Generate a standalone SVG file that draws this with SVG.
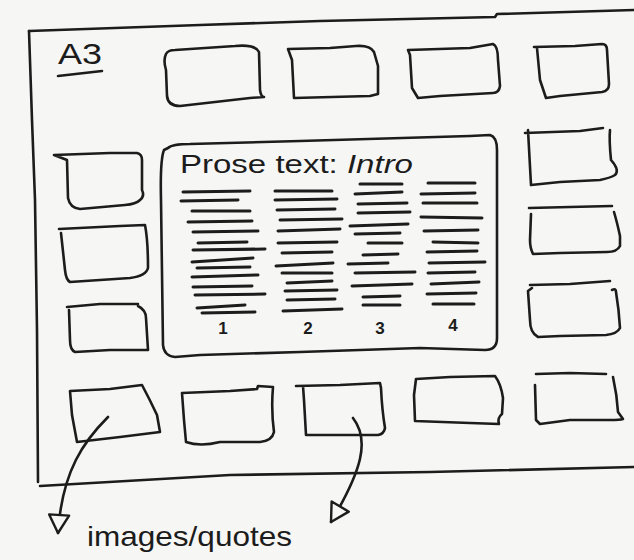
<svg xmlns="http://www.w3.org/2000/svg" width="634" height="560" viewBox="0 0 634 560">
  <style>
    .ink { fill: none; stroke: #1c1c1c; stroke-width: 2.6; stroke-linecap: round; stroke-linejoin: round; }
    .line { fill: none; stroke: #1c1c1c; stroke-width: 3; stroke-linecap: round; }
    .hand { font-family: "Liberation Sans", "DejaVu Sans", sans-serif; fill: #1c1c1c; }
    .num { font-family: "Liberation Sans", "DejaVu Sans", sans-serif; fill: #1c1c1c; font-size: 17px; font-weight: bold; text-anchor: middle; }
  </style>
  <defs>
    <marker id="openTri" viewBox="0 0 22 24" refX="20" refY="12" markerWidth="22" markerHeight="24" markerUnits="userSpaceOnUse" orient="auto">
      <path d="M2,2 L20,12 L2,22 Z" fill="#f6f6f4" stroke="#1c1c1c" stroke-width="2.4" stroke-linejoin="round"/>
    </marker>
  </defs>
  <rect width="634" height="560" fill="#f6f6f4"/>

  <g id="sheet">
    <path class="ink" d="M29,31 L200,25 L320,21 L495,17 L497,14 L634,10"/>
    <path class="ink" d="M29,31 L32,120 L35,200 L37,330 L38,482"/>
    <path class="ink" d="M40,486 L230,475 L430,472 L634,467"/>
    <text class="hand" x="58" y="64" font-size="30" textLength="44" lengthAdjust="spacingAndGlyphs">A3</text>
    <path class="ink" d="M58,76 L102,71"/>
  </g>

  <g id="top-1"><path class="ink" d="M175,50 L235,46 Q255,44 259,52 L260,90 Q261,97 264,97 L250,98 L180,106 Q168,106 167,96 L166,70 Q163,60 166,54 Q168,50 175,50 Z"/></g>
  <g id="top-2"><path class="ink" d="M288,49 L330,48 L356,46 Q370,45 374,52 L378,66 L378,94 L370,96 L294,98 L292,60 Z"/></g>
  <g id="top-3"><path class="ink" d="M408,50 L470,48 L493,44 Q498,46 498,60 L500,86 Q499,93 493,93 L440,96 L418,98 L412,88 L410,55 Z"/></g>
  <g id="top-4"><path class="ink" d="M534,47 L575,46 L602,44 Q607,44 607,50 L609,84 Q609,91 602,92 L560,96 L546,98 L540,80 L537,48"/></g>

  <g id="left-1"><path class="ink" d="M54,155 L110,153 L137,153 Q142,154 142,160 L142,190 Q145,196 140,200 Q136,204 125,205 L80,209 Q70,208 68,198 L67,160 Z"/></g>
  <g id="left-2"><path class="ink" d="M59,229 L120,226 L145,225 Q148,240 148,268 Q146,276 130,278 L70,282 Q66,280 65,270 L61,233"/></g>
  <g id="left-3"><path class="ink" d="M67,307 L100,304 L138,304 M138,306 Q146,310 146,318 L148,350 L110,350 L75,352 Q70,350 70,340 L69,310"/></g>

  <g id="right-1"><path class="ink" d="M525,133 L580,131 L603,128 M610,130 Q609,140 611,160 Q620,170 615,175 Q610,178 600,180 L560,182 L531,185 L528,130"/></g>
  <g id="right-2"><path class="ink" d="M529,208 L570,207 L612,206 M614,212 Q617,222 620,236 L620,246 Q617,252 607,252 L560,253 L533,254 Q530,248 530,240 L531,214"/></g>
  <g id="right-3"><path class="ink" d="M530,285 L570,284 L610,281 M612,290 Q616,288 616,292 Q619,310 620,328 Q617,334 606,335 L560,336 L538,337 Q530,333 530,320 L528,291 L532,288"/></g>

  <g id="bottom-1"><path class="ink" d="M70,391 L110,389 L142,385 Q150,400 157,415 L160,432 L120,437 L77,442 L72,415 Z"/></g>
  <g id="bottom-2"><path class="ink" d="M182,393 L230,391 L257,389 L258,386 L273,387 Q271,410 274,432 Q272,441 260,442 L220,442 Q200,447 186,442 L184,420 Z"/></g>
  <g id="bottom-3"><path class="ink" d="M296,386 L340,385 L380,383 L381,388 Q382,410 385,428 Q384,434 378,435 L340,435 L306,435 L304,400 L303,386"/></g>
  <g id="bottom-4"><path class="ink" d="M416,379 L450,377 L495,376 Q501,384 503,398 L502,414 Q497,418 499,424 L470,423 L415,421 L414,395 Z"/></g>
  <g id="bottom-5"><path class="ink" d="M536,374 L570,373 L606,374 M613,377 Q617,395 618,412 L623,419 Q620,420 610,420 L570,420 L540,424 L536,420 L535,385"/></g>

  <g id="prose">
    <path class="ink" d="M168,148 Q172,144 190,144 L300,141 L470,136 L490,135 Q497,137 497,150 L497,338 Q497,350 485,350 L420,348 L300,352 L200,355 L175,357 Q164,356 163,345 L161,200 Q160,160 164,150 Z"/>
    <text class="hand" x="180" y="173" font-size="25" textLength="233" lengthAdjust="spacingAndGlyphs">Prose text: <tspan font-style="italic">Intro</tspan></text>
    <g id="col-1">
      <path class="line" d="M183,192 L250,191 M181,201 L238,200 M192,211 L250,211 M188,222 L252,221 M193,232 L258,231 M198,243 L247,242 M193,250 L265,249 M192,262 L253,258 M197,268 L250,267 M192,277 L258,275 M193,287 L252,286 M195,295 L265,294 M197,308 L245,305 M202,313 L255,312"/>
    </g>
    <g id="col-2">
      <path class="line" d="M275,191 L332,191 M275,200 L337,199 M277,210 L335,209 M280,220 L342,219 M278,231 L340,229 M278,243 L337,242 M282,253 L332,252 M276,266 L333,263 M282,273 L332,273 M287,283 L332,281 M285,291 L337,290 M287,300 L335,299 M283,311 L342,309"/>
    </g>
    <g id="col-3">
      <path class="line" d="M360,184 L402,184 M355,194 L402,192 M358,204 L407,203 M358,213 L410,212 M350,226 L408,224 M355,234 L400,233 M368,243 L402,243 M363,255 L398,254 M348,264 L388,263 M355,273 L415,272 M352,286 L412,284 M363,297 L400,296 M363,305 L400,305"/>
    </g>
    <g id="col-4">
      <path class="line" d="M428,183 L475,183 M421,194 L475,193 M423,203 L477,203 M421,217 L482,218 M424,231 L478,230 M433,242 L478,243 M427,252 L477,251 M429,263 L485,262 M428,273 L475,272 M431,284 L479,282 M427,294 L476,293 M433,304 L474,304"/>
    </g>
    <text class="num" x="223" y="334">1</text>
    <text class="num" x="308" y="334">2</text>
    <text class="num" x="380" y="334">3</text>
    <text class="num" x="453" y="331">4</text>
  </g>

  <g id="connectors">
    <path class="ink" d="M108,417 C85,440 62,470 58,533" marker-end="url(#openTri)"/>
    <path class="ink" d="M353,418 C370,440 362,470 331,522" marker-end="url(#openTri)"/>
  </g>

  <g id="label">
    <text class="hand" x="87" y="546" font-size="28" textLength="205" lengthAdjust="spacingAndGlyphs">images/quotes</text>
  </g>
</svg>
